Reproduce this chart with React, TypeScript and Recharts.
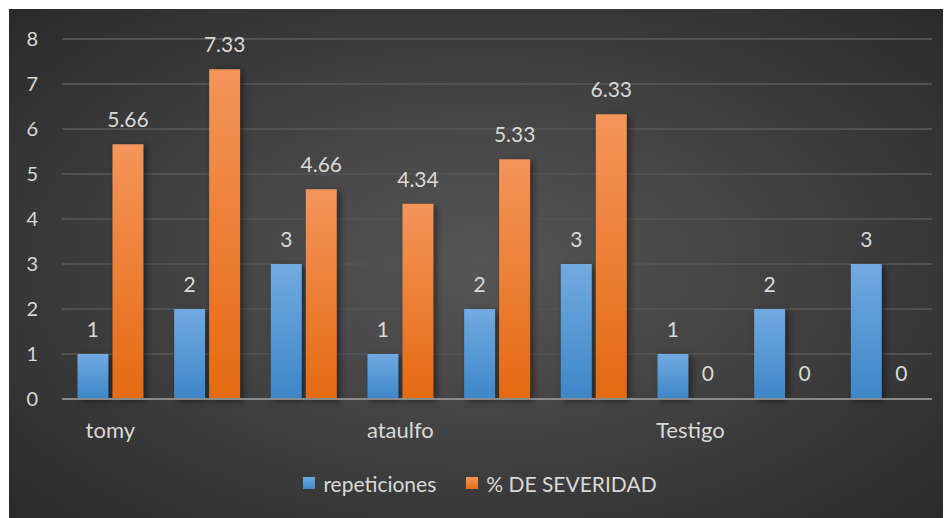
import React from 'react';
import { BarChart, Bar, XAxis, YAxis, CartesianGrid, Legend, LabelList, Cell } from 'recharts';

const categories = ['tomy', '', '', 'ataulfo', '', '', 'Testigo', '', ''];
const repeticiones = [1, 2, 3, 1, 2, 3, 1, 2, 3];
const severidad = [5.66, 7.33, 4.66, 4.34, 5.33, 6.33, 0, 0, 0];
const yTicks = [0, 1, 2, 3, 4, 5, 6, 7, 8];
const seriesNames = ['repeticiones', '% DE SEVERIDAD'];

const data = categories.map((c, i) => ({
  idx: i,
  cat: c,
  rep: repeticiones[i],
  sev: severidad[i],
}));

const FONT = 'Lato, "Open Sans", sans-serif';
const TEXT = '#d9d9d9';

const LegendContent = () => (
  <div style={{ display: 'flex', justifyContent: 'center', alignItems: 'center', fontFamily: FONT, fontSize: 21, color: TEXT, height: 24 }}>
    <span style={{ display: 'inline-block', width: 12, height: 12, background: 'linear-gradient(#70a9e0,#3f88cb)', marginRight: 8 }} />
    <span style={{ marginRight: 30 }}>{seriesNames[0]}</span>
    <span style={{ display: 'inline-block', width: 12, height: 12, background: 'linear-gradient(#f4955a,#e66c14)', marginRight: 8 }} />
    <span>{seriesNames[1]}</span>
  </div>
);

const ValueLabel = (props: any) => {
  const { x, y, width, height, value } = props;
  if (x == null || y == null || value == null) return null;
  const top = Math.min(Number(y), Number(y) + Number(height || 0));
  return (
    <text
      x={Number(x) + Number(width) / 2}
      y={top - 17}
      textAnchor="middle"
      fill={TEXT}
      fontSize={21}
      fontFamily={FONT}
    >
      {value}
    </text>
  );
};

export default function App() {
  return (
    <div
      style={{
        marginLeft: 1,
        marginTop: 1,
        width: 942,
        height: 509,
        background: 'radial-gradient(ellipse 75% 80% at 50% 50%, #565656 0%, #3c3c3c 55%, #262626 100%)',
        position: 'relative',
      }}
    >
      <BarChart
        width={942}
        height={509}
        data={data}
        margin={{ top: 30, right: 19, bottom: 0, left: 0 }}
        barCategoryGap="16%"
        barGap={4}
      >
        <defs>
          <linearGradient id="gBlue" x1="0" y1="0" x2="0" y2="1">
            <stop offset="0%" stopColor="#72aae0" />
            <stop offset="100%" stopColor="#3d86c8" />
          </linearGradient>
          <linearGradient id="gOrange" x1="0" y1="0" x2="0" y2="1">
            <stop offset="0%" stopColor="#f4955a" />
            <stop offset="100%" stopColor="#e56a12" />
          </linearGradient>
        </defs>
        <CartesianGrid vertical={false} stroke="#525252" strokeWidth={2} />
        <XAxis
          dataKey="idx"
          tickFormatter={(i: number) => categories[i]}
          axisLine={{ stroke: '#8a8a8a', strokeWidth: 2 }}
          tickLine={false}
          tickSize={0}
          tickMargin={23}
          height={95}
          interval={0}
          tick={{ fill: TEXT, fontSize: 22, fontFamily: FONT }}
        />
        <YAxis
          domain={[0, 8]}
          ticks={yTicks}
          axisLine={false}
          tickLine={false}
          tickSize={0}
          tickMargin={24}
          width={53}
          tick={{ fill: TEXT, fontSize: 20, fontFamily: FONT }}
        />
        <Legend
          content={<LegendContent />}
          verticalAlign="bottom"
          wrapperStyle={{ position: 'absolute', top: 462, left: 0, width: 942, height: 24 }}
        />
        <Bar dataKey="rep" name={seriesNames[0]} fill="url(#gBlue)" isAnimationActive={false}
          style={{ filter: 'drop-shadow(3px 2px 3px rgba(0,0,0,0.45))' }}>
          <LabelList dataKey="rep" content={<ValueLabel />} />
        </Bar>
        <Bar dataKey="sev" name={seriesNames[1]} fill="url(#gOrange)" isAnimationActive={false}
          minPointSize={1}
          style={{ filter: 'drop-shadow(3px 2px 3px rgba(0,0,0,0.45))' }}>
          {severidad.map((v, i) => (
            <Cell key={i} fill={v === 0 ? 'transparent' : 'url(#gOrange)'} />
          ))}
          <LabelList dataKey="sev" content={<ValueLabel />} />
        </Bar>
      </BarChart>
    </div>
  );
}
